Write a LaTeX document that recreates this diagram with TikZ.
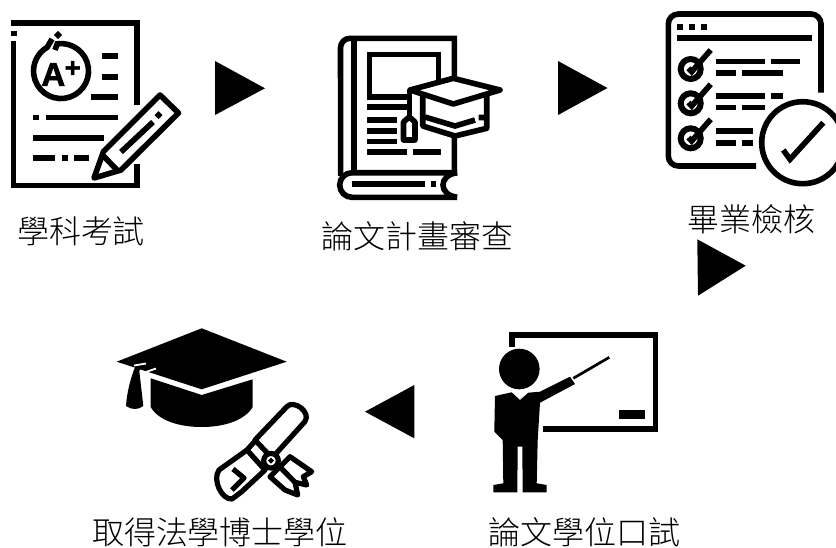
\documentclass[tikz,border=0pt]{standalone}
\usepackage{fontspec}
\usepackage{xcolor}
\newfontfamily\cjk{Noto Sans CJK TC Light}
\newfontfamily\iconfont[FakeBold=2]{Liberation Sans Bold}
\definecolor{ink}{HTML}{000000}
\definecolor{paper}{HTML}{FFFFFF}
\tikzset{
  bar/.style={draw=ink, line width=5.6pt},
  rbar/.style={draw=ink, line width=5.6pt, line join=round, line cap=round},
  thinbar/.style={draw=ink, line width=5.2pt, line join=round},
  lab/.style={text=ink, font=\cjk\fontsize{32}{32}\selectfont, inner sep=0pt},
  grade/.style={text=ink, inner sep=0pt},
}
\begin{document}
\begin{tikzpicture}[x=1pt,y=-1pt]
  \useasboundingbox (0,0) rectangle (836,547);
  \fill[paper] (0,0) rectangle (836,547);
  % exam sheet
  \draw[bar] (13.3,41) -- (13.3,185.5) -- (137,185.5) -- (137,164);
  \draw[bar] (137,105) -- (137,22.7) -- (10.7,22.7);
  \draw[bar] (10.7,33.5) -- (16.7,33.5);
  \draw[bar] (55,50) -- (57.2,43.8) arc (262:600:27.5) -- (52,39);
  \fill[ink,rotate around={45:(58,35)}] (55,32) rectangle (61,38);
  \node[grade,font=\iconfont\fontsize{33}{33}\selectfont] (gradeA) at (53.3,74.5) {A};
  \node[grade,font=\iconfont\fontsize{27}{27}\selectfont] (gradeP) at (72.7,69) {+};
  \foreach \xa/\xb/\yy in {102/118/56, 102/118/76.7, 91/118/97, 33/39/117.3, 46/118/117.3,
                           33/104/137.7, 33/55/158, 62/68/158, 74/89/158}
    \draw[bar] (\xa,\yy) -- (\xb,\yy);
  % pencil
  \draw[rbar,fill=paper] (160,95) -- (178.5,113) -- (121,170) -- (94,178) -- (103.5,151.5) -- cycle;
  \draw[bar] (103.5,156) -- (117,170);
  \draw[bar] (121,152) -- (153,122);
  \fill[ink] (158.5,111) -- (162.5,115) -- (158.5,119) -- (154.5,115) -- cycle;
  % book
  \draw[bar] (354,172.7) -- (354,38.3);
  \draw[bar] (454.3,175) -- (454.3,38.3) -- (350,38.3) arc (270:180:9.5) -- (340.7,176);
  \draw[bar] (457,172.7) -- (352,172.7) arc (270:90:12.3) -- (457,197.3);
  \draw[bar] (457,172.7) .. controls (448,174) and (443,179) .. (443,185) .. controls (443,191) and (448,196) .. (457,197.3);
  \draw[bar] (351.7,183.7) -- (425,183.7) (430.7,183.7) -- (436,183.7);
  \draw[bar] (438.3,90) -- (438.3,54.3) -- (369.3,54.3) -- (369.3,96.7) -- (410,96.7);
  \foreach \xa/\xb/\yy in {367/408/106.7, 367/396.7/120, 367/396.7/130.7, 367/396.7/141.3,
                           367/406.7/151.7, 412.7/440.7/151.7}
    \draw[bar] (\xa,\yy) -- (\xb,\yy);
  % mortar on the book
  \draw[rbar,fill=paper] (422.7,95) -- (422.7,126) -- (455,136) -- (486.7,128.3) -- (486.7,95) -- cycle;
  \draw[bar] (425,117) -- (455,126) -- (475,120) (478.5,117.5) -- (486,117.5);
  \draw[rbar,fill=paper] (410,90) -- (453.3,78.3) -- (500,90) -- (453.3,104) -- cycle;
  \draw[bar] (409.3,90) -- (409.3,116);
  \draw[rbar,fill=paper] (403.5,140) -- (403.5,122) -- (409.3,117) -- (415,122) -- (415,140) -- cycle;
  % checklist
  \draw[bar,rounded corners=10pt] (756,166) -- (668.3,166) -- (668.3,14) -- (821,14) -- (821,92.7);
  \foreach \xa in {677.3,689.3,701}
    \fill[ink] (\xa,23.5) rectangle +(6,6);
  \draw[draw=ink,line width=6pt] (677.3,37.7) -- (811.7,37.7);
  \foreach \yy in {69,103.3,138.3}{
    \draw[draw=ink,line width=6pt] (690.7,\yy) circle (10);
    \draw[bar] (688.4,\yy-0.7) -- (691.7,\yy+2.7) -- (710.7,\yy-19);
  }
  \foreach \xa/\xb/\yy in {715.7/765/61.3, 771/800/61.3, 715.7/736/72.7, 741.7/782.7/72.7,
                           715.7/765/96, 771/782.7/96, 715.7/736/107.3, 741.7/765/107.3,
                           715.7/753.3/130.7, 715.7/736/142.7, 741.7/753.3/142.7}
    \draw[bar] (\xa,\yy) -- (\xb,\yy);
  \draw[bar,fill=paper] (802.7,142.7) circle (41);
  \draw[bar] (783.3,150) -- (790,159.3) -- (823.3,122.7);
  % board and speaker
  \fill[ink] (509,331.7) rectangle (658.3,338.3);
  \fill[ink] (509,331.7) rectangle (515,346.7);
  \fill[ink] (652.7,331.7) rectangle (658.3,432.3);
  \fill[ink] (543.3,425.7) rectangle (658.3,432.3);
  \fill[ink] (618.7,410) rectangle (645.3,419.3);
  \draw[draw=ink,line width=2.7pt] (573.3,378.3) -- (609.3,357.3);
  \fill[ink] (519.3,369) circle (20.3);
  \fill[ink] (495,396) -- (511.7,392.3) -- (520,400) -- (528.3,392.7) -- (540,391.7) -- (570,376.7)
    -- (575,384) -- (540,402.7) -- (537.7,440) -- (536.7,483.3) -- (546.7,485) -- (546.7,492.3)
    -- (522.7,492.3) -- (522.3,446.7) -- (517.7,446.7) -- (517.3,492.3) -- (493.3,492.3)
    -- (493.3,485) -- (503.3,483.3) -- (502.7,440) -- (494.3,431.7) -- cycle;
  % black cap
  \fill[ink] (201.7,328.3) -- (286.7,361.7) -- (201.7,389.3) -- (116.7,361.7) -- cycle;
  \fill[ink] (150.7,378.3) -- (201.7,395) -- (252.7,379.3) -- (252.7,407)
    .. controls (245,420) and (225,427) .. (201.7,427) .. controls (178,427) and (158,420) .. (150.7,407) -- cycle;
  \fill[ink] (136,364.3) -- (143.3,365) -- (139.3,371) -- (143.3,406) .. controls (138,410) and (132,410) .. (126,406)
    .. controls (127,392) and (130,380) .. (136,364.3);
  \draw[paper,line width=1.8pt] (134,365.5) -- (146,363.5) (146,372) -- (156,368.5);
  % diploma
  \draw[thinbar,fill=paper] (290,456.7) -- (311.7,471.7) -- (303.3,476.7) -- (306.7,485) -- (295,482.3)
    -- (297.7,495) -- (285,490) -- (270,476.7) -- cycle;
  \draw[thinbar] (279,466) -- (295,482.3);
  \draw[thinbar,fill=paper] (286.7,406.8) .. controls (293,399) and (312,412) .. (304.7,421.8)
    -- (272,458) -- (255,440) -- cycle;
  \draw[thinbar,fill=paper] (247,450) -- (219,470) .. controls (212,480) and (222,500) .. (232,499)
    -- (241.7,491.7) -- (265,470) -- cycle;
  \draw[thinbar] (233,469) -- (244,478) -- (232,490);
  \draw[thinbar] (255,441) -- (247,450);
  \draw[thinbar,fill=paper] (271,460.7) circle (7.3);
  \fill[ink] (271,457.7) -- (274,460.7) -- (271,463.7) -- (268,460.7) -- cycle;
  % triangles between the steps
  \fill[ink] (215,61) -- (265,88.3) -- (215,115) -- cycle;
  \fill[ink] (558,61) -- (607.5,88) -- (558,115) -- cycle;
  \fill[ink] (697.3,239.3) -- (745.7,265.7) -- (698,295.7) -- cycle;
  \fill[ink] (414.3,385) -- (365,411.7) -- (414.3,438.3) -- cycle;
  % labels
  \node[lab] (exam) at (81,231) {學科考試};
  \node[lab] (proposal) at (417.5,236) {論文計畫審查};
  \node[lab] (check) at (751,219) {畢業檢核};
  \node[lab] (defense) at (584,532) {論文學位口試};
  \node[lab] (degree) at (220,532) {取得法學博士學位};
\end{tikzpicture}
\end{document}
